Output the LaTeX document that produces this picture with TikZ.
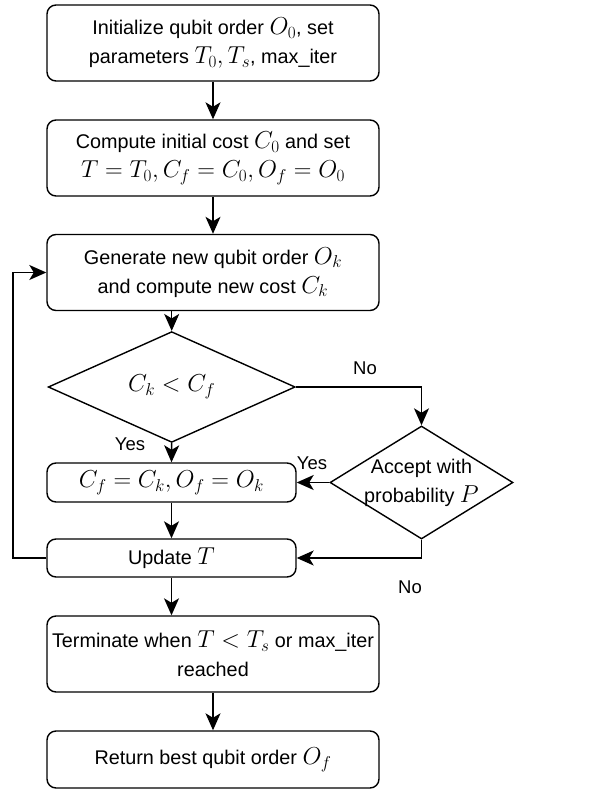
\RequirePackage{fix-cm}
\documentclass[tikz,border=0pt]{standalone}
\usepackage{amsmath}
\usepackage{fontspec}
\setmainfont{Liberation Sans}
\usepackage{tikz}
\usetikzlibrary{shapes.geometric,arrows.meta}
\newcommand{\mth}[1]{{\fontsize{24.5}{29}\selectfont$#1$}}

\begin{document}
\begin{tikzpicture}[x=1pt,y=-1pt]
\tikzstyle{every node}=[font=\fontsize{19.8}{29}\selectfont]
\tikzstyle{proc}=[draw,line width=1.4pt,rounded corners=9pt,align=center,minimum width=332pt,minimum height=76pt,inner sep=0pt]
\tikzstyle{smallproc}=[proc,minimum width=249pt,minimum height=39pt]
\tikzstyle{decision}=[draw,line width=1.4pt,diamond,inner sep=0pt]
\tikzstyle{flow}=[line width=1.4pt,-{Stealth[length=17pt,width=15pt,inset=4.5pt]}]
\tikzstyle{answer}=[font=\fontsize{18.5}{20}\selectfont]
\useasboundingbox (0,0) rectangle (601,790);

\node[proc] (init) at (213,43) {Initialize qubit order \mth{O_0}, set\\parameters \mth{T_0, T_s}, max\_iter};
\node[proc] (cost) at (213,158) {Compute initial cost \mth{C_0} and set\\\mth{T=T_0, C_f=C_0, O_f=O_0}};
\node[proc] (gen) at (213,272.5) {Generate new qubit order \mth{O_k}\\and compute new cost \mth{C_k}};
\node[decision,minimum width=247pt,minimum height=76pt] (cmp) at (171.7,387) {\mth{C_k<C_f}};
\node[smallproc] (best) at (171.5,482.5) {\mth{C_f=C_k, O_f=O_k}};
\node[decision,minimum width=183pt,minimum height=113pt] (acc) at (421.5,482.5) {};
\node[align=center] (acctext) at (acc) {Accept with\\probability \mth{P}};
\node[smallproc,minimum height=38pt] (updT) at (171.5,558) {Update \mth{T}};
\node[proc] (term) at (213,654) {Terminate when \mth{T<T_s} or max\_iter\\reached};
\node[proc,minimum height=57pt] (ret) at (213,759.5) {Return best qubit order \mth{O_f}};

\draw[flow](init)--(cost);
\draw[flow](cost)--(gen);
\draw[flow](cmp.north |- gen.south)--(cmp.north);
\draw[flow](cmp.south)--(best.north);
\draw[flow](cmp.east)-|(acc.north);
\draw[flow](acc.west)--(best.east);
\draw[flow](acc.south)|-(updT.east);
\draw[flow](best.south)--(updT.north);
\draw[flow](updT.west)--++(-33.5,0)|-(gen.west);
\draw[flow](updT.south)--(updT.south |- term.north);
\draw[flow](term)--(ret);

\node[answer] (no1) at (365,368) {No};
\node[answer] (yes1) at (130,444) {Yes};
\node[answer] (yes2) at (312,463) {Yes};
\node[answer] (no2) at (410,587) {No};

\end{tikzpicture}
\end{document}
